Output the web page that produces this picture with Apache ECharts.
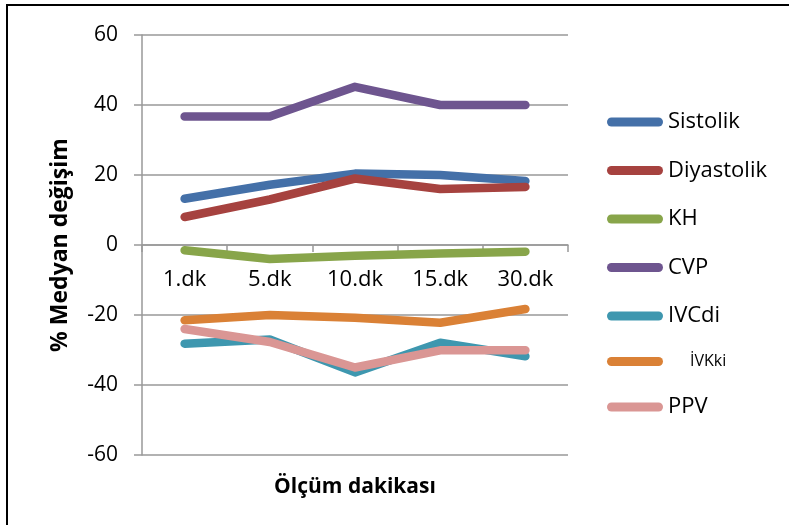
<!DOCTYPE html>
<html>
<head>
<meta charset="utf-8">
<script src="https://cdn.jsdelivr.net/npm/echarts@6/dist/echarts.min.js"></script>
<style>
html,body{margin:0;padding:0;background:#fff;}
#chart{width:789px;height:525px;}
</style>
</head>
<body>
<div id="chart"></div>
<script>
var categories = ['1.dk', '5.dk', '10.dk', '15.dk', '30.dk'];
var seriesNames = ['Sistolik', 'Diyastolik', 'KH', 'CVP', 'IVCdi', 'İVKki', 'PPV'];
var sistolik   = [13.2, 17.2, 20.4, 20.0, 18.3];
var diyastolik = [8.0, 13.0, 19.0, 16.0, 16.6];
var kh         = [-1.5, -4.0, -3.1, -2.4, -1.9];
var cvp        = [36.7, 36.7, 45.2, 40.0, 40.0];
var ivcdi      = [-28.2, -27.0, -36.4, -27.9, -31.8];
var ivkki      = [-21.5, -20.0, -20.8, -22.2, -18.3];
var ppv        = [-24.0, -27.7, -35.0, -30.1, -30.1];
var yTicks = { min: -60, max: 60, interval: 20 };
var yAxisTitle = '% Medyan değişim';
var xAxisTitle = 'Ölçüm dakikası';

var colors = ['#4470A8', '#A6423F', '#88A54A', '#6E558F', '#3E97AF', '#DA8136', '#DA9694'];
var values = [sistolik, diyastolik, kh, cvp, ivcdi, ivkki, ppv];
var FONT = 'Open Sans';

var chart = echarts.init(document.getElementById('chart'), null, { renderer: 'canvas' });

var series = seriesNames.map(function (n, i) {
  return {
    name: n,
    type: 'line',
    data: values[i],
    symbol: 'none',
    smooth: false,
    z: 2 + i,
    lineStyle: { color: colors[i], width: 8.5, cap: 'round', join: 'round' },
    itemStyle: { color: colors[i] }
  };
});

var pill = 'path://M4.5,0 L51.5,0 A4.5,4.5 0 0 1 51.5,9 L4.5,9 A4.5,4.5 0 0 1 4.5,0 Z';

var legendData = seriesNames.map(function (n, i) {
  var d = { name: n, icon: pill, itemStyle: { color: colors[i] } };
  if (n === 'İVKki') {
    d.textStyle = { fontSize: 16, padding: [0, 0, 0, 22] };
  }
  return d;
});

chart.setOption({
  animation: false,
  backgroundColor: '#ffffff',
  color: colors,
  grid: { left: 142, right: 221, top: 35, bottom: 70, containLabel: false, outerBoundsMode: 'none' },
  graphic: [{
    type: 'rect',
    shape: { x: 7, y: 5, width: 800, height: 600 },
    style: { fill: 'none', stroke: '#000', lineWidth: 2 },
    silent: true, z: -10
  }],
  legend: {
    orient: 'vertical',
    left: 602,
    top: 106,
    itemWidth: 56,
    itemHeight: 9,
    itemGap: 26.5,
    data: legendData,
    textStyle: { fontFamily: FONT, fontSize: 22, color: '#000' },
    selectedMode: false
  },
  xAxis: {
    type: 'category',
    data: categories,
    boundaryGap: true,
    position: 'bottom',
    offset: -210,
    axisLine: { onZero: false, lineStyle: { color: '#999', width: 1.5 } },
    axisTick: { show: true, inside: false, length: 7, alignWithLabel: false, lineStyle: { color: '#999', width: 1.5 } },
    axisLabel: { fontFamily: FONT, fontSize: 22, color: '#000', margin: 24, interval: 0 },
    name: xAxisTitle,
    nameLocation: 'middle',
    nameGap: 232,
    nameTextStyle: { fontFamily: FONT, fontSize: 21, fontWeight: 'bold', color: '#000' },
    splitLine: { show: false }
  },
  yAxis: {
    type: 'value',
    min: yTicks.min,
    max: yTicks.max,
    interval: yTicks.interval,
    axisLine: { show: true, onZero: false, lineStyle: { color: '#999', width: 1.5 } },
    axisTick: { show: true, inside: false, length: 8, lineStyle: { color: '#999', width: 1.5 } },
    axisLabel: { fontFamily: FONT, fontSize: 21, color: '#000', margin: 24 },
    splitLine: { show: true, lineStyle: { color: '#999', width: 1.5 } },
    name: yAxisTitle,
    nameLocation: 'middle',
    nameGap: 70,
    nameRotate: 90,
    nameTextStyle: { fontFamily: FONT, fontSize: 23, fontWeight: 'bold', color: '#000' }
  },
  series: series
});
</script>
</body>
</html>
